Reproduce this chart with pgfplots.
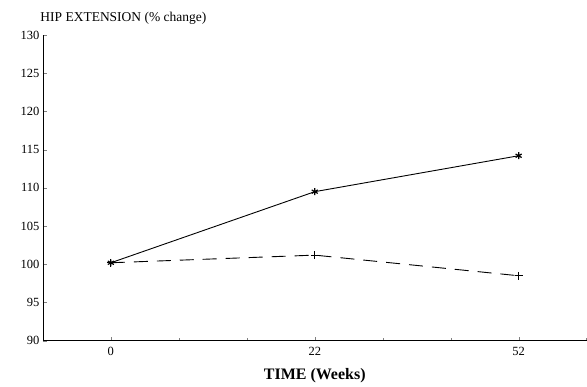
\documentclass[border=0pt]{standalone}
\usepackage{fontspec}
\setmainfont{Liberation Serif}
\usepackage{pgfplots}
\pgfplotsset{compat=1.18}
\begin{document}
\begin{tikzpicture}
\begin{axis}[
  scale only axis,
  width=544pt, height=306pt,
  xmin=-0.333, xmax=2.333,
  ymin=90, ymax=130,
  axis lines=left,
  axis line style={-, line width=0.9pt},
  tick align=inside,
  major tick length=4pt,
  minor tick length=3pt,
  xtick={0,1,2},
  xticklabels={0,22,52},
  minor xtick={0.333,0.667,1.333,1.667,2.333},
  ytick={90,95,...,130},
  /pgf/number format/assume math mode=true,
  tick label style={font=\fontsize{12.5}{13}\selectfont},
  xticklabel style={yshift=-3pt},
  xlabel={TIME (Weeks)},
  xlabel style={font=\bfseries\fontsize{16}{17}\selectfont, yshift=-6pt},
  clip=false,
]
\addplot[black, line width=0.9pt, mark=asterisk, mark size=3.5pt, mark options={solid, line width=1.2pt}]
  coordinates {(0,100.2) (1,109.5) (2,114.2)};
\addplot[black, line width=0.9pt, dash pattern=on 14pt off 9pt, mark=+, mark size=4pt, mark options={solid}]
  coordinates {(0,100.2) (1,101.2) (2,98.5)};
\node[anchor=south west, font=\fontsize{13.5}{14}\selectfont, inner sep=0pt] at (rel axis cs:-0.005,1.035) {HIP EXTENSION (\% change)};
\end{axis}
\path (current axis.south west) ++(-43pt,-46pt) rectangle ++(587pt,387pt);
\end{tikzpicture}
\end{document}
